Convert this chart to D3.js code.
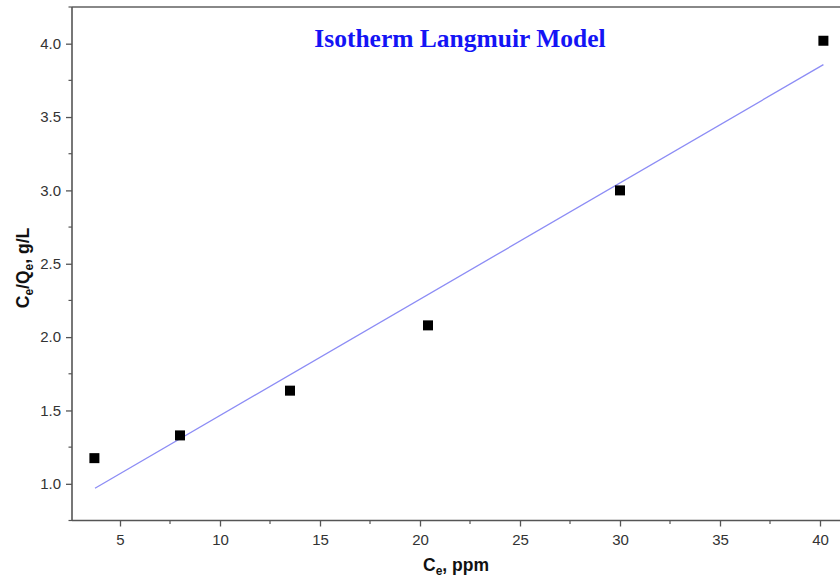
<!DOCTYPE html>
<html>
<head>
<meta charset="utf-8">
<script src="https://cdn.jsdelivr.net/npm/d3@7/dist/d3.min.js"></script>
<style>
  html, body { margin: 0; padding: 0; background: #fff; }
  svg { display: block; }
</style>
</head>
<body>
<svg id="chart" width="840" height="583"></svg>
<script>
// Measured equilibrium data: Ce (ppm) vs Ce/Qe (g/L)
const ceValues = [3.72, 8.0, 13.5, 20.4, 30.0, 40.17];
const ceQeValues = [1.175, 1.33, 1.635, 2.08, 3.0, 4.02];

// Linear Langmuir fit, drawn between its two end points
const fitCe = [3.75, 40.17];
const fitCeQe = [0.97, 3.857];

const xTicks = [5, 10, 15, 20, 25, 30, 35, 40];
const yTicks = [1.0, 1.5, 2.0, 2.5, 3.0, 3.5, 4.0];

const titleText = "Isotherm Langmuir Model";

const svg = d3.select("#chart");
const plotLeft = 72, plotRight = 860, plotTop = 7, plotBottom = 520.5;

const x = d3.scaleLinear().domain([2.6, 42]).range([plotLeft, plotRight]);
const y = d3.scaleLinear().domain([0.75, 4.25]).range([plotBottom, plotTop]);

const axisColor = "#555";
const labelFont = "Arial, 'Liberation Sans', sans-serif";

// Top frame line
svg.append("line").attr("x1", plotLeft).attr("x2", 840).attr("y1", plotTop).attr("y2", plotTop)
  .attr("stroke", "#888").attr("stroke-width", 2);

// Minor tick positions
const xMinor = d3.range(2.5, 42.5, 2.5).filter(v => v % 5 !== 0 && x(v) > plotLeft);
const yMinor = d3.range(0.75, 4.26, 0.25).filter(v => Math.abs((v * 2) % 1) > 0.01);

const xAxis = d3.axisBottom(x).tickValues(xTicks).tickFormat(d3.format("d")).tickSize(6).tickPadding(8);
const gx = svg.append("g").attr("transform", `translate(0,${plotBottom})`).call(xAxis);
gx.select(".domain").attr("d", `M${plotLeft},0H840`);
gx.selectAll(".tick line").attr("stroke", axisColor).attr("stroke-width", 1.3);
gx.select(".domain").attr("stroke", axisColor).attr("stroke-width", 1.6);
gx.selectAll("text").attr("font-family", labelFont).attr("font-size", 15).attr("fill", "#333");
gx.selectAll(".minor").data(xMinor).enter().append("line").attr("class", "minor")
  .attr("x1", d => x(d)).attr("x2", d => x(d)).attr("y1", 0).attr("y2", 3.5)
  .attr("stroke", axisColor).attr("stroke-width", 1.2);

const yAxis = d3.axisLeft(y).tickValues(yTicks).tickFormat(d3.format(".1f")).tickSize(6).tickPadding(5);
const gy = svg.append("g").attr("transform", `translate(${plotLeft},0)`).call(yAxis);
gy.select(".domain").attr("d", `M0,${plotTop}V${plotBottom}`);
gy.selectAll(".tick line").attr("stroke", axisColor).attr("stroke-width", 1.3);
gy.select(".domain").attr("stroke", axisColor).attr("stroke-width", 1.6);
gy.selectAll("text").attr("font-family", labelFont).attr("font-size", 15).attr("fill", "#333");
gy.selectAll(".minor").data(yMinor).enter().append("line").attr("class", "minor")
  .attr("x1", 0).attr("x2", -3.5).attr("y1", d => y(d)).attr("y2", d => y(d))
  .attr("stroke", axisColor).attr("stroke-width", 1.2);

// Fit line
const fitPts = fitCe.map((c, i) => [c, fitCeQe[i]]);
svg.append("path")
  .attr("d", d3.line().x(d => x(d[0])).y(d => y(d[1]))(fitPts))
  .attr("fill", "none").attr("stroke", "#8c8cf5").attr("stroke-width", 1.3);

// Data markers
const s = 10;
svg.append("g").selectAll("rect")
  .data(ceValues.map((c, i) => [c, ceQeValues[i]]))
  .enter().append("rect")
  .attr("x", d => x(d[0]) - s / 2).attr("y", d => y(d[1]) - s / 2)
  .attr("width", s).attr("height", s).attr("fill", "#000");

// Title
svg.append("text").attr("x", 460).attr("y", 47).attr("text-anchor", "middle")
  .attr("font-family", "'Liberation Serif', 'Times New Roman', serif")
  .attr("font-weight", "bold").attr("font-size", 25.5).attr("fill", "#1414f5")
  .text(titleText);

// Axis titles
const xl = svg.append("text").attr("x", 423).attr("y", 571)
  .attr("font-family", labelFont).attr("font-weight", "bold").attr("font-size", 17.5).attr("fill", "#111");
xl.append("tspan").text("C");
xl.append("tspan").attr("font-size", 12).attr("dy", 4).text("e");
xl.append("tspan").attr("dy", -4).text(", ppm");

const yl = svg.append("text").attr("transform", "translate(29,268) rotate(-90)")
  .attr("text-anchor", "middle")
  .attr("font-family", labelFont).attr("font-weight", "bold").attr("font-size", 17.5).attr("fill", "#111");
yl.append("tspan").text("C");
yl.append("tspan").attr("font-size", 12).attr("dy", 4).text("e");
yl.append("tspan").attr("dy", -4).text("/Q");
yl.append("tspan").attr("font-size", 12).attr("dy", 4).text("e");
yl.append("tspan").attr("dy", -4).text(", g/L");
</script>
</body>
</html>
